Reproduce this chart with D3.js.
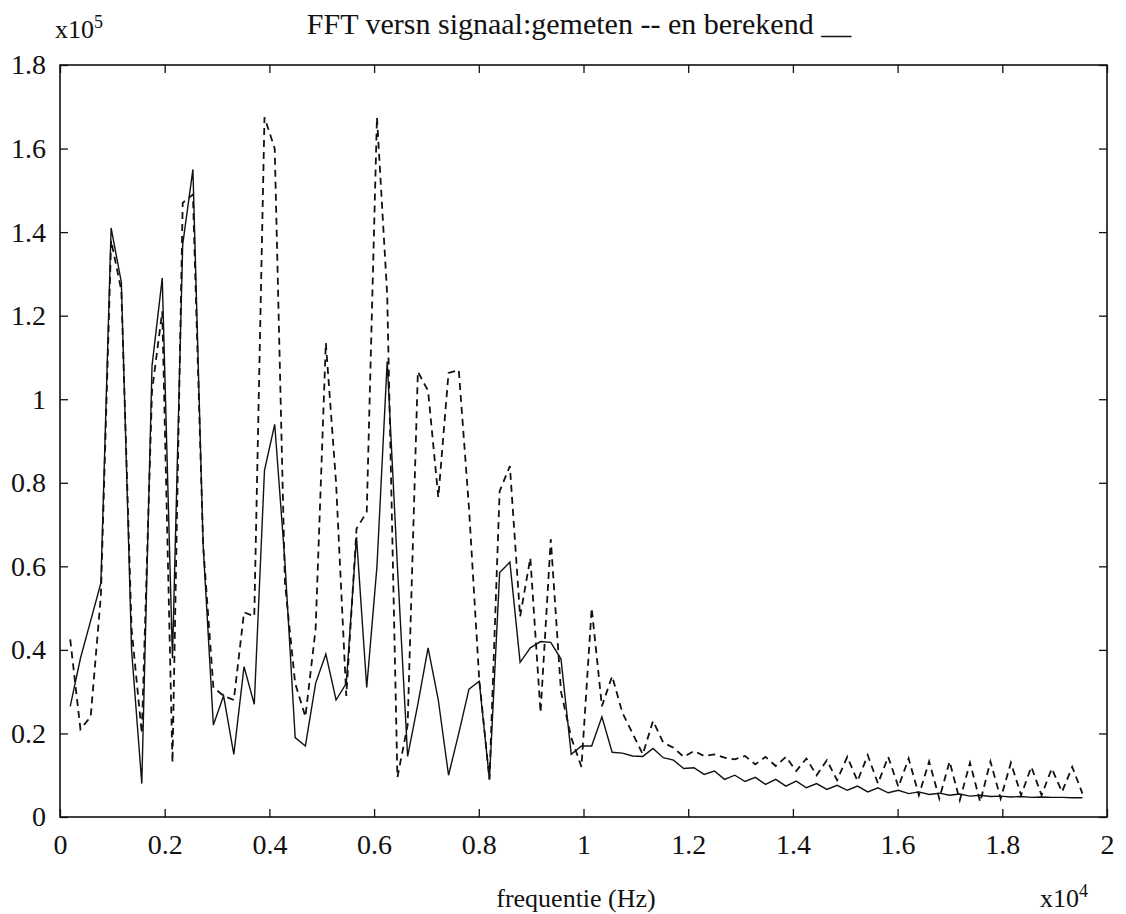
<!DOCTYPE html>
<html>
<head>
<meta charset="utf-8">
<title>FFT versn signaal</title>
<script src="https://cdn.jsdelivr.net/npm/d3@7"></script>
<style>
  body { margin: 0; background: #fff; }
  svg { display: block; }
  text { font-family: "Liberation Serif", "DejaVu Serif", serif; fill: #111; }
</style>
</head>
<body>
<div id="chart"></div>
<script>
// FFT magnitude (x10^5), one value per bin, bin 1 .. 100
var gemeten = [
  0.425, 0.21, 0.24, 0.53, 1.38, 1.26, 0.45, 0.20, 1.02, 1.21,
  0.13, 1.47, 1.49, 0.65, 0.31, 0.29, 0.28, 0.49, 0.48, 1.675,
  1.60, 0.56, 0.32, 0.24, 0.45, 1.135, 0.80, 0.29, 0.69, 0.73,
  1.675, 1.25, 0.095, 0.22, 1.066, 1.02, 0.765, 1.063, 1.07, 0.74,
  0.33, 0.09, 0.78, 0.84, 0.48, 0.62, 0.25, 0.665, 0.30, 0.19,
  0.12, 0.50, 0.265, 0.337, 0.25, 0.20, 0.15, 0.23, 0.178, 0.166,
  0.144, 0.158, 0.146, 0.15, 0.142, 0.138, 0.146, 0.126, 0.144, 0.122,
  0.144, 0.11, 0.14, 0.10, 0.136, 0.088, 0.144, 0.086, 0.148, 0.08,
  0.144, 0.072, 0.14, 0.052, 0.133, 0.044, 0.133, 0.04, 0.13, 0.036,
  0.133, 0.044, 0.13, 0.052, 0.12, 0.052, 0.116, 0.06, 0.12, 0.056
];

var berekend = [
  0.265, 0.38, 0.47, 0.56, 1.41, 1.28, 0.40, 0.08, 1.08, 1.29,
  0.38, 1.37, 1.55, 0.65, 0.22, 0.29, 0.15, 0.36, 0.27, 0.83,
  0.94, 0.61, 0.19, 0.17, 0.32, 0.39, 0.28, 0.32, 0.67, 0.31,
  0.60, 1.09, 0.60, 0.145, 0.27, 0.405, 0.28, 0.10, 0.20, 0.306,
  0.325, 0.09, 0.585, 0.61, 0.37, 0.405, 0.42, 0.418, 0.378, 0.15,
  0.17, 0.17, 0.24, 0.155, 0.153, 0.146, 0.145, 0.164, 0.142, 0.136,
  0.116, 0.118, 0.102, 0.11, 0.09, 0.10, 0.085, 0.095, 0.078, 0.09,
  0.074, 0.086, 0.07, 0.08, 0.066, 0.076, 0.064, 0.074, 0.06, 0.07,
  0.058, 0.064, 0.056, 0.06, 0.054, 0.057, 0.052, 0.055, 0.05, 0.052,
  0.049, 0.05, 0.048, 0.049, 0.047, 0.048, 0.047, 0.047, 0.046, 0.046
];

var binHz = 195.3125; // bin spacing of the FFT
var xTicks = [0, 2000, 4000, 6000, 8000, 10000, 12000, 14000, 16000, 18000, 20000];
var yTicks = [0, 0.2, 0.4, 0.6, 0.8, 1, 1.2, 1.4, 1.6, 1.8];

(function () {
  var width = 1126, height = 914;
  var m = { left: 60, right: 1107, top: 65, bottom: 817 };

  var svg = d3.select("#chart").append("svg")
    .attr("width", width)
    .attr("height", height);

  var x = d3.scaleLinear().domain([0, 20000]).range([m.left, m.right]);
  var y = d3.scaleLinear().domain([0, 1.8]).range([m.bottom, m.top]);

  var fmt = function (d) { return String(+d.toFixed(1)); };

  //------- AXES -------
  function styleAxis(g) {
    g.select(".domain").remove();
    g.selectAll(".tick line").attr("stroke", "#111").attr("stroke-width", 1.3);
    g.selectAll(".tick text").style("font-size", "28px").attr("fill", "#111");
  }

  svg.append("g")
    .attr("transform", "translate(0," + m.bottom + ")")
    .call(d3.axisBottom(x).tickValues(xTicks).tickSizeInner(-8).tickSizeOuter(0)
      .tickPadding(17).tickFormat(function (d) { return fmt(d / 10000); }))
    .call(styleAxis);

  svg.append("g")
    .attr("transform", "translate(0," + m.top + ")")
    .call(d3.axisTop(x).tickValues(xTicks).tickSizeInner(-8).tickSizeOuter(0).tickFormat(""))
    .call(styleAxis);

  svg.append("g")
    .attr("transform", "translate(" + m.left + ",0)")
    .call(d3.axisLeft(y).tickValues(yTicks).tickSizeInner(-8).tickSizeOuter(0)
      .tickPadding(14).tickFormat(fmt))
    .call(styleAxis);

  svg.append("g")
    .attr("transform", "translate(" + m.right + ",0)")
    .call(d3.axisRight(y).tickValues(yTicks).tickSizeInner(-8).tickSizeOuter(0).tickFormat(""))
    .call(styleAxis);

  svg.append("rect")
    .attr("x", m.left)
    .attr("y", m.top)
    .attr("width", m.right - m.left)
    .attr("height", m.bottom - m.top)
    .attr("fill", "none")
    .attr("stroke", "#111")
    .attr("stroke-width", 1.6);

  //------- LINES -------
  var line = d3.line()
    .x(function (d, i) { return x((i + 1) * binHz); })
    .y(function (d) { return y(d); });

  svg.append("path")
    .datum(gemeten)
    .attr("d", line)
    .attr("fill", "none")
    .attr("stroke", "#111")
    .attr("stroke-width", 1.8)
    .attr("stroke-dasharray", "7,5");

  svg.append("path")
    .datum(berekend)
    .attr("d", line)
    .attr("fill", "none")
    .attr("stroke", "#111")
    .attr("stroke-width", 1.4);

  //------- TEXT -------
  svg.append("text")
    .attr("x", 579)
    .attr("y", 34)
    .attr("text-anchor", "middle")
    .style("font-size", "30px")
    .text("FFT versn signaal:gemeten -- en berekend __");

  var ey = svg.append("text").attr("x", 55).attr("y", 38).style("font-size", "26px");
  ey.append("tspan").text("x10");
  ey.append("tspan").attr("dy", -10).style("font-size", "18px").text("5");

  svg.append("text")
    .attr("x", 576)
    .attr("y", 907)
    .attr("text-anchor", "middle")
    .style("font-size", "26px")
    .text("frequentie (Hz)");

  var ex = svg.append("text").attr("x", 1040).attr("y", 907).style("font-size", "26px");
  ex.append("tspan").text("x10");
  ex.append("tspan").attr("dy", -10).style("font-size", "18px").text("4");
})();
</script>
</body>
</html>
